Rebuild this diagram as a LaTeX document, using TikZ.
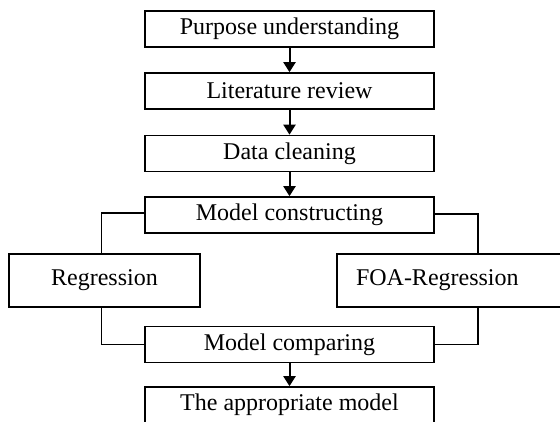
\documentclass[tikz,border=0pt]{standalone}
\usepackage{fontspec}
\setmainfont{Liberation Serif}
\usetikzlibrary{arrows.meta}

\begin{document}
\begin{tikzpicture}[x=1pt,y=-1pt,line width=1.6pt,
    stepbox/.style={draw,minimum width=289pt,minimum height=36pt,inner sep=0pt,
        font=\fontsize{24}{28}\selectfont},
    sidebox/.style={stepbox,minimum width=191pt,minimum height=53pt},
    flow/.style={line width=2pt,-{Triangle[width=12pt,length=10pt]}}]
    \clip (0,0) rectangle (560,421);
    \node[stepbox] (purpose) at (289.5,29) {Purpose understanding};
    \node[stepbox] (review) at (289.5,91) {Literature review};
    \node[stepbox] (clean) at (289.5,153.5) {Data cleaning};
    \node[stepbox] (construct) at (289.5,215) {Model constructing};
    \node[sidebox] (reg) at (104.5,280.5) {Regression};
    \node[sidebox,minimum width=250pt,text width=212pt,align=left,inner xsep=19pt]
        (foa) at (462,280.5) {FOA-Regression};
    \node[stepbox] (compare) at (289.5,344.5) {Model comparing};
    \node[stepbox] (model) at (289.5,405) {The appropriate model};
    \coordinate (foatop) at ([xshift=142pt]foa.north west);
    \coordinate (foabot) at ([xshift=142pt]foa.south west);
    % main chain
    \draw[flow] (purpose) -- (review);
    \draw[flow] (review) -- (clean);
    \draw[flow] (clean) -- (construct);
    \draw[flow] (compare) -- (model);
    % two branches
    \draw ([yshift=2pt]construct.west) -| ([xshift=-3pt]reg.north);
    \draw ([yshift=1pt]construct.east) -| (foatop);
    \draw ([xshift=-3pt]reg.south) |- (compare.west);
    \draw (foabot) |- (compare.east);
\end{tikzpicture}
\end{document}
